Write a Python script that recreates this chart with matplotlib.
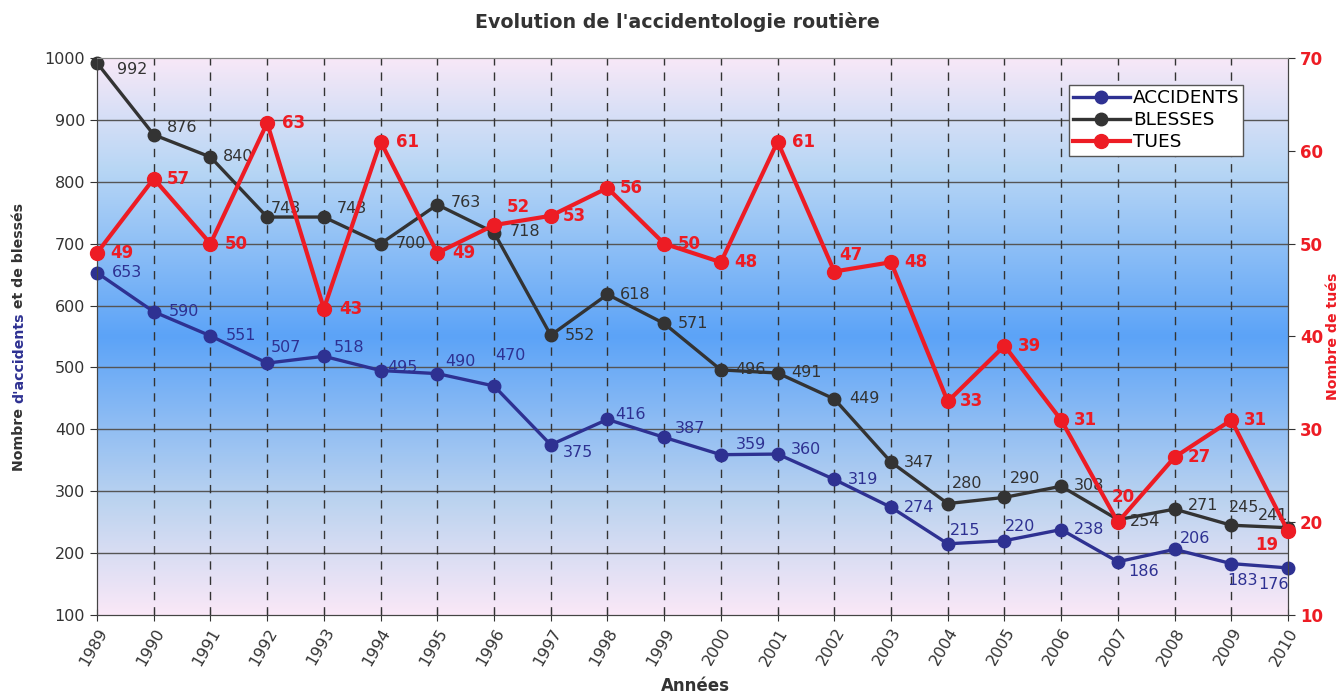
import numpy as np
import matplotlib.pyplot as plt
from matplotlib.colors import LinearSegmentedColormap

plt.rcParams['font.family'] = ['DejaVu Sans']

# Données
annees = list(range(1989, 2011))
accidents = [653, 590, 551, 507, 518, 495, 490, 470, 375, 416, 387, 359, 360, 319, 274, 215, 220, 238, 186, 206, 183, 176]
blesses = [992, 876, 840, 743, 743, 700, 763, 718, 552, 618, 571, 496, 491, 449, 347, 280, 290, 308, 254, 271, 245, 241]
tues = [49, 57, 50, 63, 43, 61, 49, 52, 53, 56, 50, 48, 61, 47, 48, 33, 39, 31, 20, 27, 31, 19]

# décalages des étiquettes (pixels)
off_acc = [(15, 0), (15, 0), (15, 0), (4, 16), (10, 9), (7, 3), (8, 12), (1, 30), (12, -8), (8, 5), (11, 9),
           (15, 10), (13, 5), (13, 0), (13, 0), (2, 13), (0, 14), (13, 0), (10, -10), (5, 11), (-4, -17), (-30, -17)]
off_bl = [(20, -7), (13, 7), (12, 1), (4, 9), (13, 9), (15, 0), (13, 2), (16, 1), (14, 0), (12, 0), (14, 0),
          (14, 0), (14, 0), (15, 0), (13, 0), (4, 20), (5, 19), (13, 1), (12, -2), (13, 4), (-2, 18), (-30, 12)]
off_tu = [(13, 0), (13, 0), (14, 0), (15, 0), (15, 0), (15, 0), (15, 0), (13, 18), (12, 0), (12, 0), (14, 0),
          (13, 0), (14, 0), (5, 17), (13, 0), (12, 0), (13, 0), (13, 0), (-6, 25), (13, 0), (13, 0), (-33, -14)]

c_acc = '#2E3192'
c_bl = '#333333'
c_tu = '#ED1C24'

fig = plt.figure(figsize=(13.42, 6.93), dpi=100)
ax = fig.add_axes([0.0723, 0.1126, 0.8875, 0.8037])
ax2 = ax.twinx()

# fond dégradé
stops = [(0.0, (0.98, 0.91, 0.97)), (0.2, (0.74, 0.83, 0.94)), (0.5, (0.36, 0.64, 0.97)),
         (0.8, (0.72, 0.84, 0.96)), (1.0, (0.97, 0.91, 0.97))]
cmap = LinearSegmentedColormap.from_list('fond', stops)
grad = np.linspace(0, 1, 256).reshape(-1, 1)
ax.imshow(grad, extent=[0, 1, 0, 1], transform=ax.transAxes, cmap=cmap, origin='lower',
          aspect='auto', zorder=0)

ax.set_xlim(1989, 2010)
ax.set_ylim(100, 1000)
ax2.set_ylim(10, 70)
ax.set_yticks(range(100, 1001, 100))
ax2.set_yticks(range(10, 71, 10))
ax.set_xticks(annees)
ax.set_xticklabels([str(a) for a in annees], rotation=60, ha='right', rotation_mode='anchor',
                   fontsize=11.5, color='#333333')

for y in range(200, 1000, 100):
    ax.axhline(y, color='#555555', lw=1, zorder=1)
for a in annees[1:-1]:
    ax.axvline(a, color='#333333', lw=1, ls=(0, (6, 5)), zorder=1)

ax.plot(annees, accidents, color=c_acc, lw=2.4, marker='o', ms=9, zorder=3, label='ACCIDENTS', clip_on=False)
ax.plot(annees, blesses, color=c_bl, lw=2.4, marker='o', ms=9, zorder=3, label='BLESSES', clip_on=False)
ax2.plot(annees, tues, color=c_tu, lw=3, marker='o', ms=10, zorder=3, label='TUES', clip_on=False)

for x, v, o in zip(annees, accidents, off_acc):
    ax.annotate(str(v), (x, v), xytext=o, textcoords='offset pixels', va='center', ha='left',
                fontsize=11.5, color=c_acc, zorder=4)
for x, v, o in zip(annees, blesses, off_bl):
    ax.annotate(str(v), (x, v), xytext=o, textcoords='offset pixels', va='center', ha='left',
                fontsize=11.5, color=c_bl, zorder=4)
for x, v, o in zip(annees, tues, off_tu):
    ax2.annotate(str(v), (x, v), xytext=o, textcoords='offset pixels', va='center', ha='left',
                 fontsize=12, color=c_tu, fontweight='bold', zorder=4, annotation_clip=False)

ax.tick_params(axis='y', labelsize=11.5, colors='#333333', length=5, direction='out')
ax.tick_params(axis='x', length=8, direction='inout', colors='#333333')
ax2.tick_params(axis='y', labelsize=12, labelcolor=c_tu, length=5, color='#333333')
for lab in ax2.get_yticklabels():
    lab.set_fontweight('bold')
for s in ['left', 'bottom', 'right', 'top']:
    ax.spines[s].set_color('#444444')
    ax2.spines[s].set_color('#444444')
ax.spines['top'].set_color('#888888')
ax2.spines['top'].set_color('#888888')

h1, l1 = ax.get_legend_handles_labels()
h2, l2 = ax2.get_legend_handles_labels()
leg = ax2.legend(h1 + h2, l1 + l2, loc='upper right', bbox_to_anchor=(0.9625, 0.951), borderaxespad=0,
                 fontsize=13.3, frameon=True, fancybox=False, edgecolor='#555555', framealpha=1,
                 handlelength=3.1, borderpad=0.22, labelspacing=0.22, handletextpad=0.15)
leg.get_frame().set_linewidth(1)

fig.text(0.505, 0.968, "Evolution de l'accidentologie routière", ha='center', va='center',
         fontsize=13.7, fontweight='bold', color='#333333')
fig.text(0.518, 0.01, "Années", ha='center', va='center', fontsize=12, fontweight='bold', color='#333333')
fig.text(0.993, 0.515, "Nombre de tués", ha='center', va='center', rotation=90, fontsize=10.2,
         fontweight='bold', color=c_tu)

# libellé gauche multicolore
parts = [("Nombre ", c_bl), ("d'accidents", c_acc), (" et de blessés", c_bl)]
fig.canvas.draw()
rend = fig.canvas.get_renderer()
txts = []
for s, c in parts:
    t = fig.text(0, 0, s, rotation=90, fontsize=10.2, fontweight='bold', color=c, ha='center', va='bottom')
    txts.append(t)
fig.canvas.draw()
hs = [t.get_window_extent(rend).height for t in txts]
H = 693
total = sum(hs)
y0 = (H - 337) - total / 2
for t, h in zip(txts, hs):
    t.set_position((19 / 1342, y0 / H))
    y0 += h

fig.savefig('out.png', dpi=100)
